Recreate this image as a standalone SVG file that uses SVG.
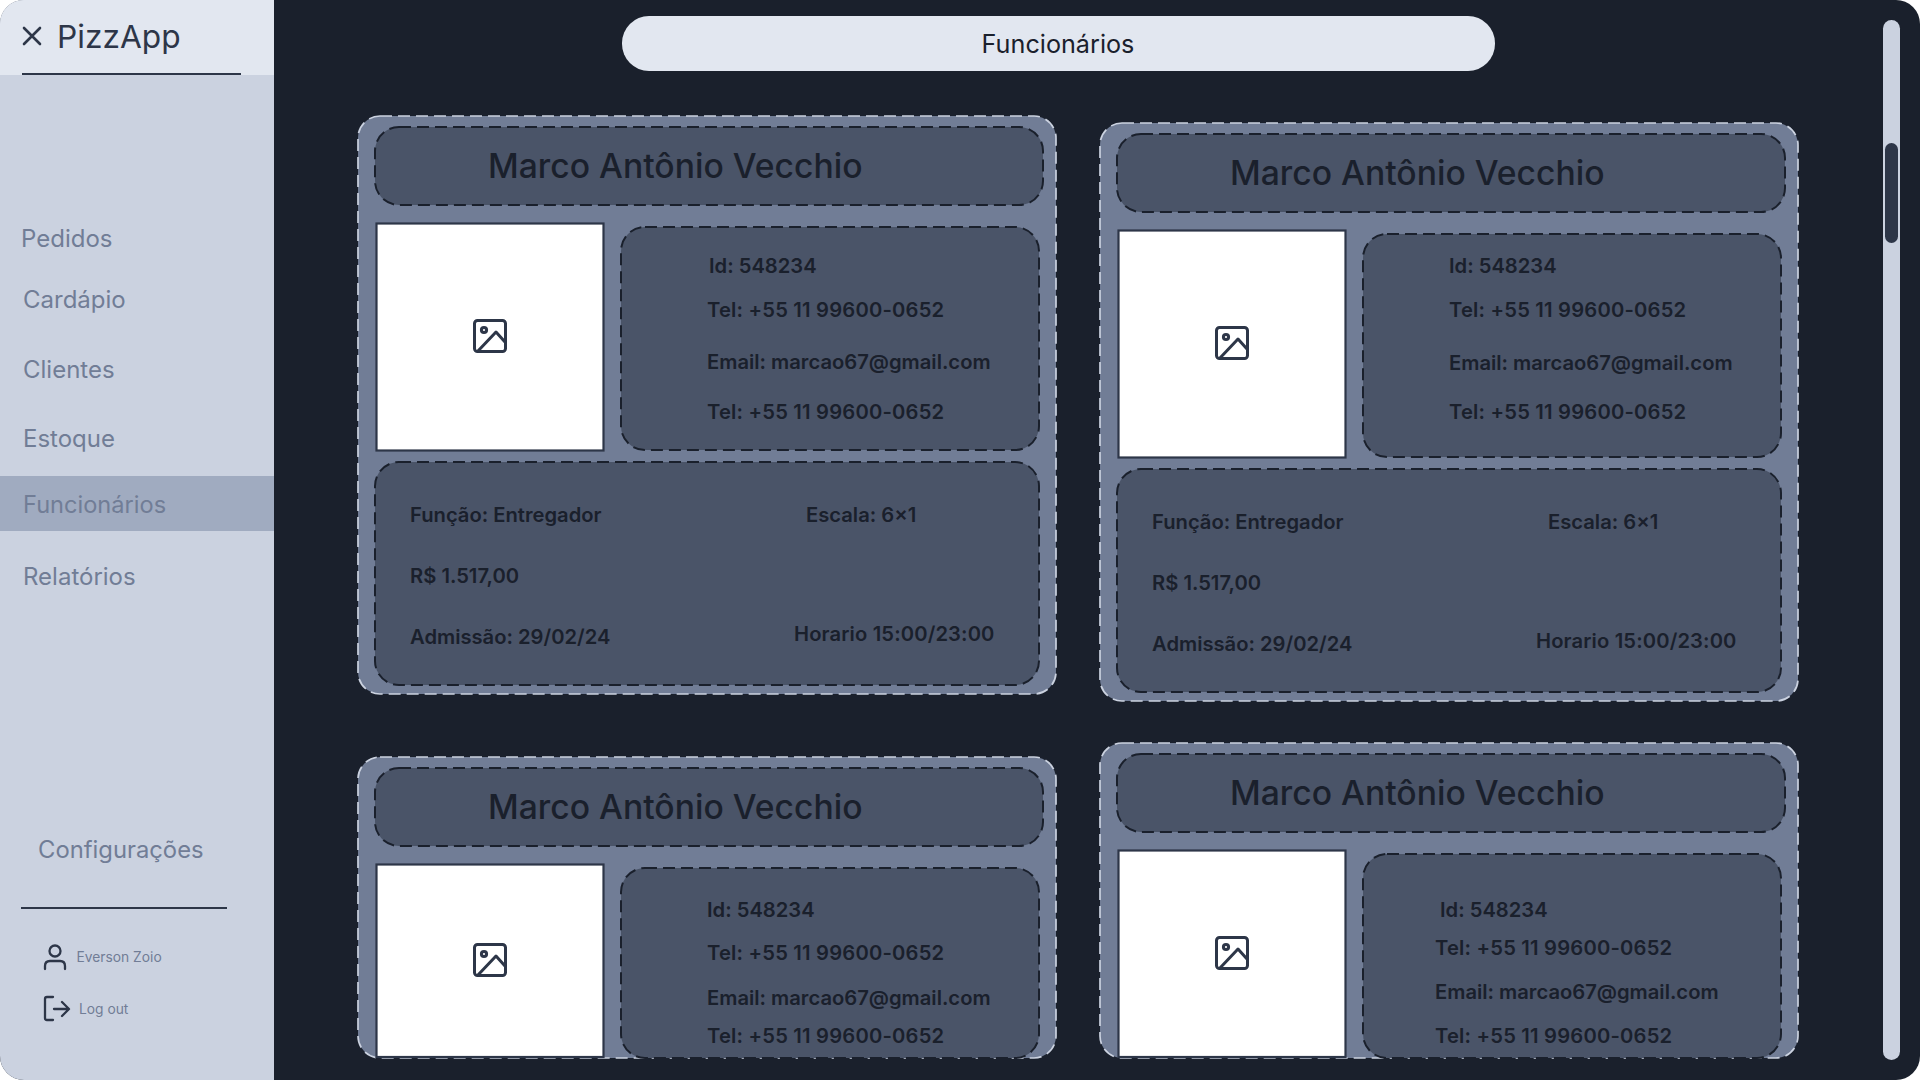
<svg xmlns="http://www.w3.org/2000/svg" width="1920" height="1080" viewBox="0 0 1920 1080">
<style>
text{font-family:Inter,"Noto Sans",sans-serif}
.card{fill:#717d96;stroke:#cbd2e0;stroke-width:1.7;stroke-dasharray:12 6}
.box{fill:#4a5468;stroke:#1a202c;stroke-width:2;stroke-dasharray:12 6}
.img{fill:#fff;stroke:#2d3648;stroke-width:2.2}
.name{font-size:33.7px;font-weight:500;fill:#1a202c}
.info{font-size:20.2px;font-weight:600;fill:#1a202c}
.tel{letter-spacing:.2px}
.hor{letter-spacing:.13px}
.nav{font-size:24px;fill:#717d96}
.small{font-size:13.8px;fill:#717d96}
.ic{fill:none;stroke:#2d3648;stroke-width:3;stroke-linecap:round;stroke-linejoin:round}
.ic2{fill:none;stroke:#2d3648;stroke-width:2.3;stroke-linecap:round;stroke-linejoin:round}
</style>
<defs>
<clipPath id="win"><rect width="1920" height="1080" rx="24"/></clipPath>
<g id="pic" class="ic">
<rect x="1.5" y="1.5" width="31" height="31" rx="3"/>
<circle cx="11" cy="11" r="2.6"/>
<path d="M5 32 L23 13 L32 23"/>
</g>
</defs>
<rect width="1920" height="1080" fill="#fff"/>
<g clip-path="url(#win)">
<rect width="1920" height="1080" fill="#1a202c"/>
<g id="sidebar">
<rect width="274" height="1080" fill="#cbd2e0"/>
<rect width="274" height="75" fill="#e2e7f0"/>
<path class="ic2" d="M24 28 L40 44 M40 28 L24 44" style="stroke-width:2.6"/>
<text x="57" y="47.5" font-size="31.7" fill="#2d3648">PizzApp</text>
<line x1="22" y1="74" x2="241" y2="74" stroke="#2d3648" stroke-width="2"/>
<rect y="476" width="274" height="55" fill="#a0abc0"/>
<text class="nav" x="21" y="247">Pedidos</text>
<text class="nav" x="23" y="308">Cardápio</text>
<text class="nav" x="23" y="378">Clientes</text>
<text class="nav" x="23" y="447">Estoque</text>
<text class="nav" x="23" y="513" style="font-size:23.6px">Funcionários</text>
<text class="nav" x="23" y="585">Relatórios</text>
<text class="nav" x="38" y="858" style="font-size:23.8px">Configurações</text>
<line x1="21" y1="908" x2="227" y2="908" stroke="#2d3648" stroke-width="2"/>
<circle class="ic2" cx="55" cy="951" r="5.5"/>
<path class="ic2" d="M45 969 V966 Q45 961 50 961 H60 Q65 961 65 966 V969"/>
<text class="small" x="76.5" y="962">Everson Zoio</text>
<path class="ic2" d="M53 997 H47 Q45 997 45 999 V1018 Q45 1020 47 1020 H53 M54 1009 H68 M62 1002 L69 1009 L62 1016"/>
<text class="small" x="79" y="1014">Log out</text>
</g>
<g id="title-bar">
<rect x="622" y="16" width="873" height="55" rx="27" fill="#e2e7f0"/>
<text x="1058" y="52.5" font-size="25.2" text-anchor="middle" fill="#1a202c">Funcionários</text>
</g>
<g id="scrollbar">
<rect x="1883" y="20" width="17" height="1040" rx="8.5" fill="#cbd2e0"/>
<rect x="1885" y="143" width="13" height="100" rx="6.5" fill="#2d3648"/>
</g>
<g id="card-1">
<rect class="card" x="358" y="116" width="698" height="578" rx="22"/>
<rect class="box" x="375" y="127" width="668" height="78" rx="24"/>
<rect class="img" x="376.5" y="223.5" width="227" height="227"/>
<use href="#pic" x="473" y="319"/>
<rect class="box" x="621" y="227" width="418" height="223" rx="24"/>
<rect class="box" x="375" y="462" width="664" height="223" rx="24"/>
<text class="name" x="488" y="178">Marco Antônio Vecchio</text>
<text class="info" x="709" y="273">Id: 548234</text>
<text class="info tel" x="707" y="317">Tel: +55 11 99600-0652</text>
<text class="info" x="707" y="369">Email: marcao67@gmail.com</text>
<text class="info tel" x="707" y="419">Tel: +55 11 99600-0652</text>
<text class="info" x="410" y="522">Função: Entregador</text>
<text class="info" x="806" y="522">Escala: 6x1</text>
<text class="info" x="410" y="583">R$ 1.517,00</text>
<text class="info" x="410" y="644">Admissão: 29/02/24</text>
<text class="info hor" x="794" y="641">Horario 15:00/23:00</text>
</g>
<g id="card-2">
<rect class="card" x="1100" y="123" width="698" height="578" rx="22"/>
<rect class="box" x="1117" y="134" width="668" height="78" rx="24"/>
<rect class="img" x="1118.5" y="230.5" width="227" height="227"/>
<use href="#pic" x="1215" y="326"/>
<rect class="box" x="1363" y="234" width="418" height="223" rx="24"/>
<rect class="box" x="1117" y="469" width="664" height="223" rx="24"/>
<text class="name" x="1230" y="185">Marco Antônio Vecchio</text>
<text class="info" x="1449" y="273">Id: 548234</text>
<text class="info tel" x="1449" y="317">Tel: +55 11 99600-0652</text>
<text class="info" x="1449" y="370">Email: marcao67@gmail.com</text>
<text class="info tel" x="1449" y="419">Tel: +55 11 99600-0652</text>
<text class="info" x="1152" y="529">Função: Entregador</text>
<text class="info" x="1548" y="529">Escala: 6x1</text>
<text class="info" x="1152" y="590">R$ 1.517,00</text>
<text class="info" x="1152" y="651">Admissão: 29/02/24</text>
<text class="info hor" x="1536" y="648">Horario 15:00/23:00</text>
</g>
<g id="card-3">
<rect class="card" x="358" y="757" width="698" height="301" rx="22"/>
<rect class="box" x="375" y="768" width="668" height="78" rx="24"/>
<rect class="img" x="376.5" y="864.5" width="227" height="192.5"/>
<use href="#pic" x="473" y="943"/>
<rect class="box" x="621" y="868" width="418" height="190" rx="24"/>
<text class="name" x="488" y="819">Marco Antônio Vecchio</text>
<text class="info" x="707" y="917">Id: 548234</text>
<text class="info tel" x="707" y="960">Tel: +55 11 99600-0652</text>
<text class="info" x="707" y="1005">Email: marcao67@gmail.com</text>
<text class="info tel" x="707" y="1043">Tel: +55 11 99600-0652</text>
</g>
<g id="card-4">
<rect class="card" x="1100" y="743" width="698" height="315" rx="22"/>
<rect class="box" x="1117" y="754" width="668" height="78" rx="24"/>
<rect class="img" x="1118.5" y="850.5" width="227" height="206.5"/>
<use href="#pic" x="1215" y="936"/>
<rect class="box" x="1363" y="854" width="418" height="204" rx="24"/>
<text class="name" x="1230" y="805">Marco Antônio Vecchio</text>
<text class="info" x="1440" y="917">Id: 548234</text>
<text class="info tel" x="1435" y="955">Tel: +55 11 99600-0652</text>
<text class="info" x="1435" y="999">Email: marcao67@gmail.com</text>
<text class="info tel" x="1435" y="1043">Tel: +55 11 99600-0652</text>
</g>
</g>
</svg>
